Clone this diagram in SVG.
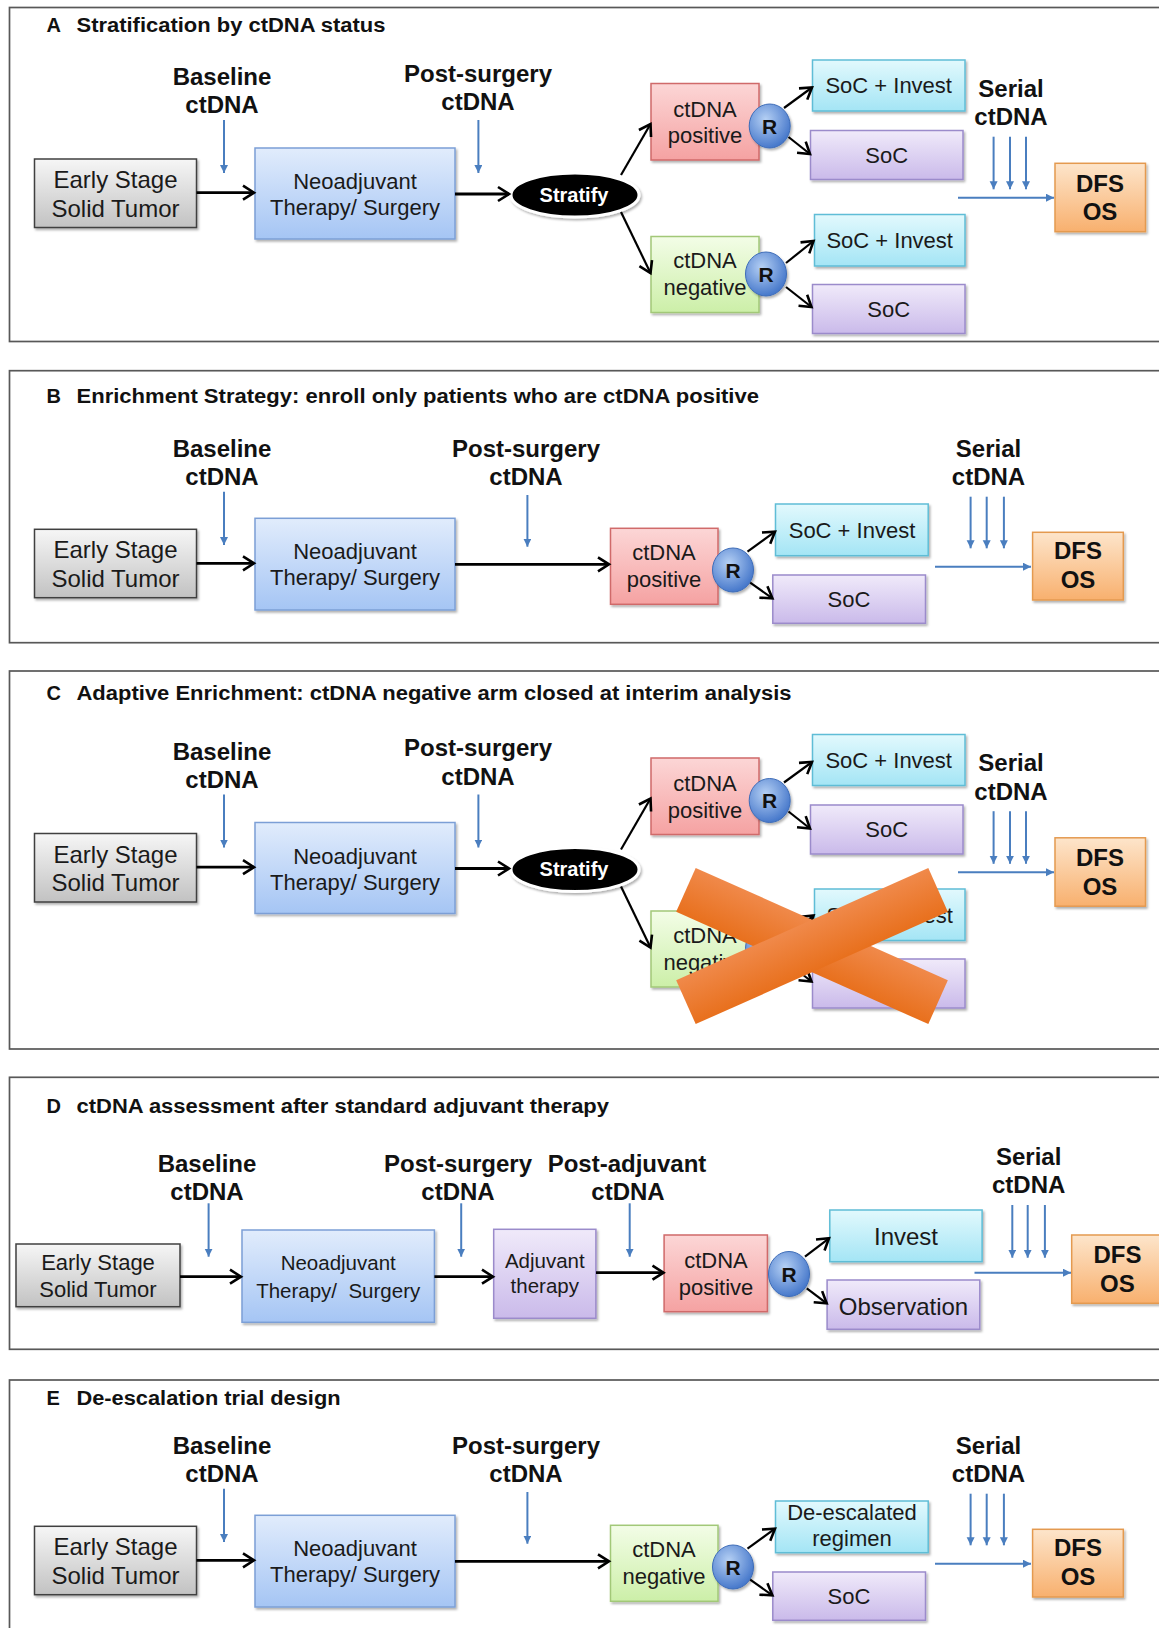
<svg xmlns="http://www.w3.org/2000/svg" width="1159" height="1628" viewBox="0 0 1159 1628">
<defs>
<style>
.frame{fill:#fff;stroke:#585858;stroke-width:1.7}
.ttl{font-family:"Liberation Sans",Arial,sans-serif;font-weight:bold;font-size:20px;fill:#111}
.lbl{font-family:"Liberation Sans",Arial,sans-serif;font-weight:bold;font-size:24px;fill:#111;text-anchor:middle}
.t24{font-family:"Liberation Sans",Arial,sans-serif;font-size:24px;fill:#1a1a1a;text-anchor:middle}
.t22{font-family:"Liberation Sans",Arial,sans-serif;font-size:22px;fill:#1a1a1a;text-anchor:middle}
.t20{font-family:"Liberation Sans",Arial,sans-serif;font-size:20.5px;fill:#1a1a1a;text-anchor:middle}
.rt{font-family:"Liberation Sans",Arial,sans-serif;font-weight:bold;font-size:21px;fill:#111;text-anchor:middle}
.st{font-family:"Liberation Sans",Arial,sans-serif;font-weight:bold;font-size:20px;fill:#fff;text-anchor:middle}
.gray{fill:url(#gGray);stroke:#404040;stroke-width:1.5}
.blue{fill:url(#gBlue);stroke:#7c9fd6;stroke-width:1.5}
.pink{fill:url(#gPink);stroke:#d06a6a;stroke-width:1.5}
.green{fill:url(#gGreen);stroke:#a2c878;stroke-width:1.5}
.cyan{fill:url(#gCyan);stroke:#5fbdd6;stroke-width:1.5}
.purple{fill:url(#gPurple);stroke:#9b8bcb;stroke-width:1.5}
.orange{fill:url(#gOrange);stroke:#e49a50;stroke-width:1.5}
.rc{fill:url(#gR);stroke:#3d6cb8;stroke-width:1}
.bk{fill:none;stroke:#000;stroke-width:2.8;marker-end:url(#ah)}
.bkt{fill:none;stroke:#000;stroke-width:2.2;marker-end:url(#ah)}
.bl{fill:none;stroke:#4a7ebf;stroke-width:2;marker-end:url(#ab)}
.sh{filter:url(#shadow)}
</style>
<linearGradient id="gGray" x1="0" y1="0" x2="0" y2="1"><stop offset="0" stop-color="#f6f6f6"/><stop offset="1" stop-color="#c2c2c2"/></linearGradient>
<linearGradient id="gBlue" x1="0" y1="0" x2="0" y2="1"><stop offset="0" stop-color="#e1ecfc"/><stop offset="1" stop-color="#a5c5f4"/></linearGradient>
<linearGradient id="gPink" x1="0" y1="0" x2="0" y2="1"><stop offset="0" stop-color="#fcd6d6"/><stop offset="1" stop-color="#f5a2a2"/></linearGradient>
<linearGradient id="gGreen" x1="0" y1="0" x2="0" y2="1"><stop offset="0" stop-color="#f3fde7"/><stop offset="1" stop-color="#ccefa8"/></linearGradient>
<linearGradient id="gCyan" x1="0" y1="0" x2="0" y2="1"><stop offset="0" stop-color="#e2f9fd"/><stop offset="1" stop-color="#a4e5f5"/></linearGradient>
<linearGradient id="gPurple" x1="0" y1="0" x2="0" y2="1"><stop offset="0" stop-color="#f0eafa"/><stop offset="1" stop-color="#cabaea"/></linearGradient>
<linearGradient id="gOrange" x1="0" y1="0" x2="0" y2="1"><stop offset="0" stop-color="#fde5cb"/><stop offset="1" stop-color="#f8b06e"/></linearGradient>
<linearGradient id="gX" x1="0" y1="0" x2="0" y2="1"><stop offset="0" stop-color="#f0894a"/><stop offset="1" stop-color="#e8701d"/></linearGradient>
<radialGradient id="gR" cx="0.4" cy="0.35" r="0.7"><stop offset="0" stop-color="#b5d0f4"/><stop offset="1" stop-color="#3f72c8"/></radialGradient>
<filter id="shadow" x="-10%" y="-10%" width="125%" height="130%"><feDropShadow dx="1.5" dy="2" stdDeviation="1.3" flood-color="#000" flood-opacity="0.3"/></filter>
<marker id="ah" markerUnits="userSpaceOnUse" markerWidth="18" markerHeight="18" refX="14" refY="9" orient="auto"><path d="M3,2 L14,9 L3,16" fill="none" stroke="#000" stroke-width="2.6"/></marker>
<marker id="ab" markerUnits="userSpaceOnUse" markerWidth="10" markerHeight="10" refX="8" refY="4" orient="auto"><path d="M0,0 L8,4 L0,8 z" fill="#4a7ebf"/></marker>
</defs>
<rect width="1159" height="1628" fill="#fff"/>

<!-- Panel A -->
<g id="panelA">
<rect class="frame" x="9.5" y="7.5" width="1170" height="334"/>
<text class="ttl" x="46.5" y="32">A</text>
<text class="ttl" x="76.5" y="32" textLength="309" lengthAdjust="spacingAndGlyphs">Stratification by ctDNA status</text>
<g id="A-content">
<g id="A-baseline"><text class="lbl" x="222" y="85">Baseline</text><text class="lbl" x="222" y="113">ctDNA</text></g>
<g id="A-postsurgery"><text class="lbl" x="478" y="81.7">Post-surgery</text><text class="lbl" x="478" y="110">ctDNA</text></g>
<g id="A-serial"><text class="lbl" x="1011" y="96.7">Serial</text><text class="lbl" x="1011" y="125">ctDNA</text></g>
<g id="A-early"><rect class="gray sh" x="34.5" y="159" width="162" height="68.5"/><text class="t24" x="115.5" y="188">Early Stage</text><text class="t24" x="115.5" y="216.5">Solid Tumor</text></g>
<g id="A-neo"><rect class="blue sh" x="255" y="148" width="200" height="91"/><text class="t22" x="355" y="189">Neoadjuvant</text><text class="t22" x="355" y="215">Therapy/ Surgery</text></g>
<g id="A-stratify"><ellipse class="sh" cx="575" cy="195" rx="64" ry="22" fill="#000" stroke="#fff" stroke-width="3"/><text class="st" x="574" y="201.5">Stratify</text></g>
<g id="A-pos"><rect class="pink sh" x="651" y="83.5" width="108" height="76.5"/><text class="t22" x="705" y="116.7">ctDNA</text><text class="t22" x="705" y="143.3">positive</text></g>
<g id="A-R1"><ellipse class="rc sh" cx="769.7" cy="126" rx="20.5" ry="22"/><text class="rt" x="769.7" y="133.5">R</text></g>
<g id="A-soci1"><rect class="cyan sh" x="812.5" y="60" width="152.5" height="51"/><text class="t22" x="888.7" y="93.3">SoC + Invest</text></g>
<g id="A-soc1"><rect class="purple sh" x="810.5" y="130.5" width="152.5" height="49"/><text class="t22" x="886.7" y="162.7">SoC</text></g>
<g id="A-neg"><rect class="green sh" x="651" y="236.5" width="108" height="76"/><text class="t22" x="705" y="268.3">ctDNA</text><text class="t22" x="705" y="295">negative</text></g>
<g id="A-R2"><ellipse class="rc sh" cx="766" cy="274" rx="20.5" ry="22"/><text class="rt" x="766" y="281.5">R</text></g>
<g id="A-soci2"><rect class="cyan sh" x="814.5" y="214.5" width="150.5" height="51.5"/><text class="t22" x="889.7" y="248.3">SoC + Invest</text></g>
<g id="A-soc2"><rect class="purple sh" x="812.5" y="284.5" width="152.5" height="49"/><text class="t22" x="888.7" y="316.7">SoC</text></g>
<g id="A-dfs"><rect class="orange sh" x="1055" y="163.3" width="90.5" height="68.4"/><text class="lbl" x="1100" y="191.7">DFS</text><text class="lbl" x="1100" y="220">OS</text></g>
<g id="A-connectors">
<path class="bk" d="M196.5,192.7 H254"/>
<path class="bk" d="M455,194 H509"/>
<path class="bkt" d="M621,175 L650.5,124"/>
<path class="bkt" d="M621,212 L650.5,273"/>
<path class="bkt" d="M784,108 L812,87.5"/>
<path class="bkt" d="M788.5,137 L810,154"/>
<path class="bkt" d="M786,263 L813.5,241"/>
<path class="bkt" d="M786,287 L811.5,307"/>
<path class="bl" d="M224,120 V173"/>
<path class="bl" d="M478.4,120 V173"/>
<path class="bl" d="M993.6,136.7 V189.3"/>
<path class="bl" d="M1010,136.7 V189.3"/>
<path class="bl" d="M1026,136.7 V189.3"/>
<path class="bl" d="M958,197.7 H1054"/>
</g>
</g>
</g>

<!-- Panel B -->
<g id="panelB">
<rect class="frame" x="9.5" y="370.7" width="1170" height="272"/>
<text class="ttl" x="46.5" y="403.3">B</text>
<text class="ttl" x="76.5" y="403.3" textLength="682.5" lengthAdjust="spacingAndGlyphs">Enrichment Strategy: enroll only patients who are ctDNA positive</text>
<g id="B-baseline"><text class="lbl" x="222" y="456.7">Baseline</text><text class="lbl" x="222" y="485">ctDNA</text></g>
<g id="B-postsurgery"><text class="lbl" x="526" y="456.7">Post-surgery</text><text class="lbl" x="526" y="485">ctDNA</text></g>
<g id="B-serial"><text class="lbl" x="988.5" y="456.7">Serial</text><text class="lbl" x="988.5" y="485">ctDNA</text></g>
<g id="B-early"><rect class="gray sh" x="34.5" y="529.3" width="162" height="68.4"/><text class="t24" x="115.5" y="558.3">Early Stage</text><text class="t24" x="115.5" y="586.7">Solid Tumor</text></g>
<g id="B-neo"><rect class="blue sh" x="255" y="518.3" width="200" height="91.7"/><text class="t22" x="355" y="559.3">Neoadjuvant</text><text class="t22" x="355" y="585">Therapy/ Surgery</text></g>
<g id="B-pos"><rect class="pink sh" x="610.5" y="528.3" width="107.5" height="76"/><text class="t22" x="664" y="560">ctDNA</text><text class="t22" x="664" y="586.7">positive</text></g>
<g id="B-R"><ellipse class="rc sh" cx="733" cy="570" rx="20.5" ry="22"/><text class="rt" x="733" y="577.5">R</text></g>
<g id="B-soci"><rect class="cyan sh" x="775.5" y="504" width="152.7" height="51.7"/><text class="t22" x="852" y="538.3">SoC + Invest</text></g>
<g id="B-soc"><rect class="purple sh" x="772.8" y="575" width="152.7" height="48.3"/><text class="t22" x="849" y="606.7">SoC</text></g>
<g id="B-dfs"><rect class="orange sh" x="1032.6" y="532.3" width="90.7" height="67.7"/><text class="lbl" x="1078" y="559.3">DFS</text><text class="lbl" x="1078" y="588.3">OS</text></g>
<g id="B-connectors">
<path class="bk" d="M196.5,563.3 H254"/>
<path class="bk" d="M455,564.3 H609"/>
<path class="bkt" d="M747.5,551.7 L775,531.7"/>
<path class="bkt" d="M750.2,582.7 L772.4,598.3"/>
<path class="bl" d="M224,491.7 V545"/>
<path class="bl" d="M527.4,495 V546.7"/>
<path class="bl" d="M970.6,496.7 V548.3"/>
<path class="bl" d="M986.7,496.7 V548.3"/>
<path class="bl" d="M1003.9,496.7 V548.3"/>
<path class="bl" d="M935,566.7 H1031"/>
</g>
</g>

<!-- Panel C -->
<g id="panelC">
<rect class="frame" x="9.5" y="671" width="1170" height="378"/>
<text class="ttl" x="46.5" y="700">C</text>
<text class="ttl" x="76.5" y="700" textLength="715" lengthAdjust="spacingAndGlyphs">Adaptive Enrichment: ctDNA negative arm closed at interim analysis</text>
<g transform="translate(0,674.5)">
<g id="C-baseline"><text class="lbl" x="222" y="85">Baseline</text><text class="lbl" x="222" y="113">ctDNA</text></g>
<g id="C-postsurgery"><text class="lbl" x="478" y="81.7">Post-surgery</text><text class="lbl" x="478" y="110">ctDNA</text></g>
<g id="C-serial"><text class="lbl" x="1011" y="96.7">Serial</text><text class="lbl" x="1011" y="125">ctDNA</text></g>
<g id="C-early"><rect class="gray sh" x="34.5" y="159" width="162" height="68.5"/><text class="t24" x="115.5" y="188">Early Stage</text><text class="t24" x="115.5" y="216.5">Solid Tumor</text></g>
<g id="C-neo"><rect class="blue sh" x="255" y="148" width="200" height="91"/><text class="t22" x="355" y="189">Neoadjuvant</text><text class="t22" x="355" y="215">Therapy/ Surgery</text></g>
<g id="C-stratify"><ellipse class="sh" cx="575" cy="195" rx="64" ry="22" fill="#000" stroke="#fff" stroke-width="3"/><text class="st" x="574" y="201.5">Stratify</text></g>
<g id="C-pos"><rect class="pink sh" x="651" y="83.5" width="108" height="76.5"/><text class="t22" x="705" y="116.7">ctDNA</text><text class="t22" x="705" y="143.3">positive</text></g>
<g id="C-R1"><ellipse class="rc sh" cx="769.7" cy="126" rx="20.5" ry="22"/><text class="rt" x="769.7" y="133.5">R</text></g>
<g id="C-soci1"><rect class="cyan sh" x="812.5" y="60" width="152.5" height="51"/><text class="t22" x="888.7" y="93.3">SoC + Invest</text></g>
<g id="C-soc1"><rect class="purple sh" x="810.5" y="130.5" width="152.5" height="49"/><text class="t22" x="886.7" y="162.7">SoC</text></g>
<g id="C-neg"><rect class="green sh" x="651" y="236.5" width="108" height="76"/><text class="t22" x="705" y="268.3">ctDNA</text><text class="t22" x="705" y="295">negative</text></g>
<g id="C-R2"><ellipse class="rc sh" cx="766" cy="274" rx="20.5" ry="22"/><text class="rt" x="766" y="281.5">R</text></g>
<g id="C-soci2"><rect class="cyan sh" x="814.5" y="214.5" width="150.5" height="51.5"/><text class="t22" x="889.7" y="248.3">SoC + Invest</text></g>
<g id="C-soc2"><rect class="purple sh" x="812.5" y="284.5" width="152.5" height="49"/><text class="t22" x="888.7" y="316.7">SoC</text></g>
<g id="C-dfs"><rect class="orange sh" x="1055" y="163.3" width="90.5" height="68.4"/><text class="lbl" x="1100" y="191.7">DFS</text><text class="lbl" x="1100" y="220">OS</text></g>
<g id="C-connectors">
<path class="bk" d="M196.5,192.7 H254"/>
<path class="bk" d="M455,194 H509"/>
<path class="bkt" d="M621,175 L650.5,124"/>
<path class="bkt" d="M621,212 L650.5,273"/>
<path class="bkt" d="M784,108 L812,87.5"/>
<path class="bkt" d="M788.5,137 L810,154"/>
<path class="bkt" d="M786,263 L813.5,241"/>
<path class="bkt" d="M786,287 L811.5,307"/>
<path class="bl" d="M224,120 V173"/>
<path class="bl" d="M478.4,120 V173"/>
<path class="bl" d="M993.6,136.7 V189.3"/>
<path class="bl" d="M1010,136.7 V189.3"/>
<path class="bl" d="M1026,136.7 V189.3"/>
<path class="bl" d="M958,197.7 H1054"/>
</g>
</g>
<g id="C-cross" fill="url(#gX)">
<rect x="-138" y="-24" width="276" height="48" transform="translate(812,946) rotate(24)"/>
<rect x="-138" y="-24" width="276" height="48" transform="translate(812,946) rotate(-24)"/>
</g>
</g>

<!-- Panel D -->
<g id="panelD">
<rect class="frame" x="9.5" y="1077.3" width="1170" height="272"/>
<text class="ttl" x="46.5" y="1113.3">D</text>
<text class="ttl" x="76.5" y="1113.3" textLength="532.5" lengthAdjust="spacingAndGlyphs">ctDNA assessment after standard adjuvant therapy</text>
<g id="D-baseline"><text class="lbl" x="207" y="1171.7">Baseline</text><text class="lbl" x="207" y="1200">ctDNA</text></g>
<g id="D-postsurgery"><text class="lbl" x="458" y="1171.7">Post-surgery</text><text class="lbl" x="458" y="1200">ctDNA</text></g>
<g id="D-postadjuvant"><text class="lbl" x="627" y="1171.7">Post-adjuvant</text><text class="lbl" x="628" y="1200">ctDNA</text></g>
<g id="D-serial"><text class="lbl" x="1028.7" y="1165">Serial</text><text class="lbl" x="1028.7" y="1193.3">ctDNA</text></g>
<g id="D-early"><rect class="gray sh" x="16" y="1244" width="164" height="62.7"/><text class="t22" x="98" y="1270">Early Stage</text><text class="t22" x="98" y="1296.7">Solid Tumor</text></g>
<g id="D-neo"><rect class="blue sh" x="242" y="1230" width="192.4" height="92.3"/><text class="t20" x="338.2" y="1270">Neoadjuvant</text><text class="t20" x="338.2" y="1297.7" xml:space="preserve">Therapy/  Surgery</text></g>
<g id="D-adj"><rect class="purple sh" x="493.7" y="1229.3" width="102.2" height="89"/><text class="t20" x="544.8" y="1268.3">Adjuvant</text><text class="t20" x="544.8" y="1293.3">therapy</text></g>
<g id="D-pos"><rect class="pink sh" x="664.1" y="1235" width="103.3" height="76.7"/><text class="t22" x="716" y="1268.3">ctDNA</text><text class="t22" x="716" y="1295">positive</text></g>
<g id="D-R"><ellipse class="rc sh" cx="789" cy="1274" rx="20.5" ry="22.5"/><text class="rt" x="789" y="1281.5">R</text></g>
<g id="D-invest"><rect class="cyan sh" x="829.8" y="1210" width="152.3" height="51.7"/><text class="t24" x="906" y="1245">Invest</text></g>
<g id="D-obs"><rect class="purple sh" x="827.1" y="1280" width="152.7" height="49.3"/><text class="t24" x="903.5" y="1315">Observation</text></g>
<g id="D-dfs"><rect class="orange sh" x="1071.7" y="1235" width="92" height="68.3"/><text class="lbl" x="1117.4" y="1263.3">DFS</text><text class="lbl" x="1117.4" y="1291.7">OS</text></g>
<g id="D-connectors">
<path class="bk" d="M180,1276.7 H241"/>
<path class="bk" d="M434.4,1276.7 H493"/>
<path class="bk" d="M596,1272.7 H663.5"/>
<path class="bkt" d="M805,1256.7 L829,1238.3"/>
<path class="bkt" d="M806.8,1288.3 L826.7,1303.3"/>
<path class="bl" d="M208.6,1203.3 V1256.7"/>
<path class="bl" d="M461.2,1203.3 V1256.7"/>
<path class="bl" d="M629.7,1203.3 V1256.7"/>
<path class="bl" d="M1012.3,1205 V1257.7"/>
<path class="bl" d="M1027.7,1205 V1257.7"/>
<path class="bl" d="M1044.9,1205 V1257.7"/>
<path class="bl" d="M974.5,1272.7 H1071"/>
</g>
</g>

<!-- Panel E -->
<g id="panelE">
<rect class="frame" x="9.5" y="1380" width="1170" height="300"/>
<text class="ttl" x="46.5" y="1405">E</text>
<text class="ttl" x="76.5" y="1405" textLength="264" lengthAdjust="spacingAndGlyphs">De-escalation trial design</text>
<g transform="translate(0,997)">
<g id="E-baseline"><text class="lbl" x="222" y="456.7">Baseline</text><text class="lbl" x="222" y="485">ctDNA</text></g>
<g id="E-postsurgery"><text class="lbl" x="526" y="456.7">Post-surgery</text><text class="lbl" x="526" y="485">ctDNA</text></g>
<g id="E-serial"><text class="lbl" x="988.5" y="456.7">Serial</text><text class="lbl" x="988.5" y="485">ctDNA</text></g>
<g id="E-early"><rect class="gray sh" x="34.5" y="529.3" width="162" height="68.4"/><text class="t24" x="115.5" y="558.3">Early Stage</text><text class="t24" x="115.5" y="586.7">Solid Tumor</text></g>
<g id="E-neo"><rect class="blue sh" x="255" y="518.3" width="200" height="91.7"/><text class="t22" x="355" y="559.3">Neoadjuvant</text><text class="t22" x="355" y="585">Therapy/ Surgery</text></g>
<g id="E-neg"><rect class="green sh" x="610.5" y="528.3" width="107.5" height="76"/><text class="t22" x="664" y="560">ctDNA</text><text class="t22" x="664" y="586.7">negative</text></g>
<g id="E-R"><ellipse class="rc sh" cx="733" cy="570" rx="20.5" ry="22"/><text class="rt" x="733" y="577.5">R</text></g>
<g id="E-deesc"><rect class="cyan sh" x="775.5" y="504" width="152.7" height="51.7"/><text class="t22" x="852" y="523">De-escalated</text><text class="t22" x="852" y="548.7">regimen</text></g>
<g id="E-soc"><rect class="purple sh" x="772.8" y="575" width="152.7" height="48.3"/><text class="t22" x="849" y="606.7">SoC</text></g>
<g id="E-dfs"><rect class="orange sh" x="1032.6" y="532.3" width="90.7" height="67.7"/><text class="lbl" x="1078" y="559.3">DFS</text><text class="lbl" x="1078" y="588.3">OS</text></g>
<g id="E-connectors">
<path class="bk" d="M196.5,563.3 H254"/>
<path class="bk" d="M455,564.3 H609"/>
<path class="bkt" d="M747.5,551.7 L775,531.7"/>
<path class="bkt" d="M750.2,582.7 L772.4,598.3"/>
<path class="bl" d="M224,491.7 V545"/>
<path class="bl" d="M527.4,495 V546.7"/>
<path class="bl" d="M970.6,496.7 V548.3"/>
<path class="bl" d="M986.7,496.7 V548.3"/>
<path class="bl" d="M1003.9,496.7 V548.3"/>
<path class="bl" d="M935,566.7 H1031"/>
</g>
</g>
</g>
</svg>
